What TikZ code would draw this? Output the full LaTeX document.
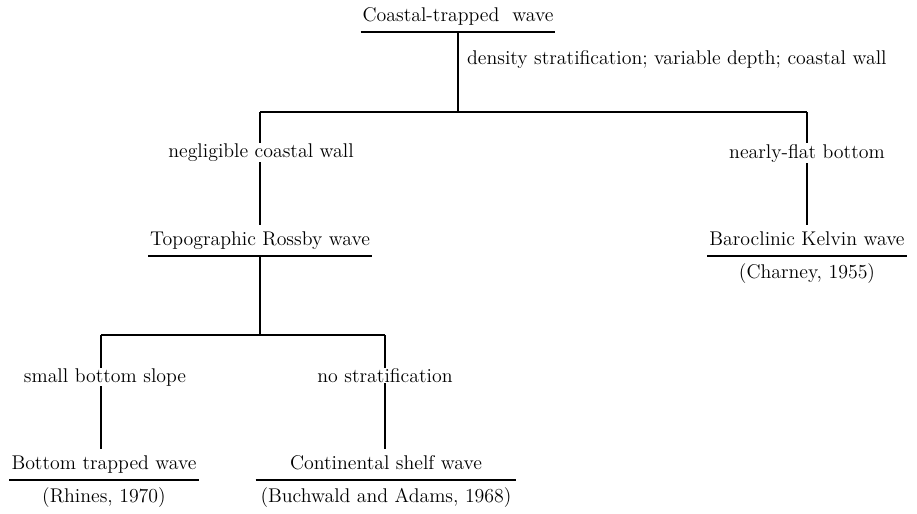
\documentclass[tikz,border=0pt]{standalone}
\usepackage{tikz}
\usetikzlibrary{positioning}

\begin{document}
\begin{tikzpicture}[
    x=0.02cm, y=-0.02cm,
    every node/.style={font=\fontsize{11.3}{13}\selectfont},
    wave/.style={anchor=base, inner xsep=1pt, inner ysep=6pt, text height=5pt, text depth=0pt},
    cite/.style={inner xsep=1pt, inner ysep=0pt, text height=8pt, text depth=2.5pt},
    cond/.style={anchor=base, fill=white, inner xsep=2pt, inner ysep=0.3pt},
    link/.style={line width=0.9pt},
    uline/.style={line width=0.9pt},
]
\useasboundingbox (0,0) rectangle (917,514);

% wave types
\node[wave] (title) at (458,21) {Coastal-trapped\ \ wave};
\node[wave] (topo) at (260,245) {Topographic Rossby wave};
\node[wave] (kelvin) at (807,245) {Baroclinic Kelvin wave};
\node[wave] (bottom) at (104,469) {Bottom trapped wave};
\node[wave, minimum width=148pt] (cont) at (386,469) {Continental shelf wave};
\node[cite, below=4.5pt of kelvin] (charney) {(Charney, 1955)};
\node[cite, below=4.5pt of bottom] (rhines) {(Rhines, 1970)};
\node[cite, below=4.5pt of cont] (buchwald) {(Buchwald and Adams, 1968)};

% underlines
\draw[uline] (title.south west) -- (title.south east);
\draw[uline] (topo.south west) -- (topo.south east);
\draw[uline] (kelvin.south west) -- (kelvin.south east);
\draw[uline] (bottom.south west) -- (bottom.south east);
\draw[uline] (cont.south west) -- (cont.south east);

% tree
\coordinate (barL) at (260,112);
\coordinate (barR) at (807,112);
\coordinate (subL) at (101,335);
\coordinate (subR) at (385,335);
\draw[link] (title.south) -- (title.south |- barL);
\draw[link] (barL) -- (barR);
\draw[link] (barL) -- (topo.north);
\draw[link] (barR) -- (kelvin.north);
\draw[link] (topo.south) -- (topo.south |- subL);
\draw[link] (subL) -- (subR);
\draw[link] (subL) -- (subL |- bottom.north);
\draw[link] (subR) -- (subR |- cont.north);

% conditions
\node[anchor=base west, inner sep=1pt] (c0) at (465,64) {density stratification; variable depth; coastal wall};
\node[cond] (c1) at (261,157) {negligible coastal wall};
\node[cond] (c2) at (807,158) {nearly-flat bottom};
\node[cond] (c3) at (105,382) {small bottom slope};
\node[cond] (c4) at (385,382) {no stratification};
\end{tikzpicture}
\end{document}
